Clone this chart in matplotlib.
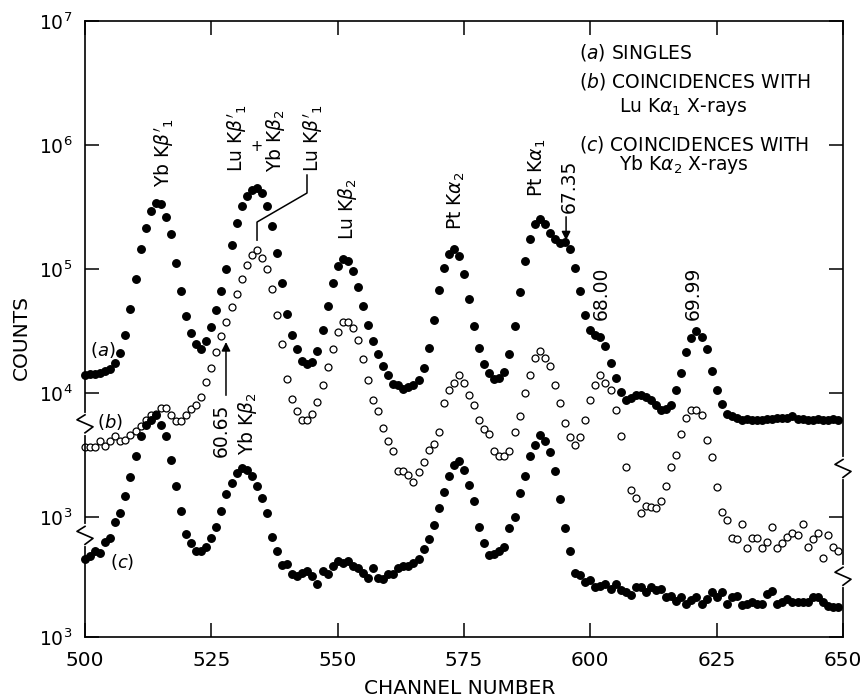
import numpy as np
import matplotlib
matplotlib.use("Agg")
import matplotlib.pyplot as plt
from matplotlib.lines import Line2D
from matplotlib import transforms

plt.rcParams["font.family"] = "DejaVu Sans"
plt.rcParams["mathtext.fontset"] = "dejavusans"

# ========================= Data (log10 of counts) =========================#
first_channel = 500

# (a) singles
log_a = [
    4.14, 4.15, 4.15, 4.16, 4.18, 4.19, 4.24, 4.32, 4.47, 4.68,
    4.92, 5.16, 5.33, 5.47, 5.53, 5.52, 5.42, 5.28, 5.05, 4.82,
    4.62, 4.48, 4.39, 4.35, 4.42, 4.53, 4.67, 4.82, 5.00, 5.19,
    5.37, 5.51, 5.59, 5.64, 5.65, 5.61, 5.51, 5.35, 5.13, 4.89,
    4.64, 4.47, 4.35, 4.26, 4.23, 4.25, 4.34, 4.51, 4.70, 4.89,
    5.02, 5.08, 5.06, 4.98, 4.85, 4.70, 4.55, 4.42, 4.31, 4.22,
    4.14, 4.07, 4.06, 4.03, 4.05, 4.06, 4.10, 4.20, 4.36, 4.59,
    4.83, 5.01, 5.12, 5.16, 5.10, 4.96, 4.76, 4.54, 4.36, 4.23,
    4.16, 4.11, 4.12, 4.17, 4.31, 4.54, 4.81, 5.06, 5.24, 5.36,
    5.40, 5.36, 5.29, 5.24, 5.21, 5.22, 5.16, 5.01, 4.82, 4.63,
    4.51, 4.47, 4.45, 4.38, 4.24, 4.12, 4.01, 3.94, 3.96, 3.98,
    3.98, 3.97, 3.94, 3.90, 3.86, 3.87, 3.90, 4.02, 4.16, 4.33,
    4.44, 4.50, 4.45, 4.35, 4.18, 4.02, 3.91, 3.83, 3.81, 3.80,
    3.78, 3.79, 3.78, 3.78, 3.78, 3.79, 3.79, 3.80, 3.80, 3.80,
    3.81, 3.79, 3.79, 3.78, 3.78, 3.79, 3.78, 3.78, 3.79, 3.78,
]

# (b) coincidences with Lu K alpha1 x-rays (shifted scale)
log_b = [
    3.56, 3.56, 3.56, 3.61, 3.57, 3.61, 3.65, 3.61, 3.62, 3.66,
    3.69, 3.73, 3.78, 3.82, 3.83, 3.88, 3.88, 3.82, 3.77, 3.77,
    3.82, 3.87, 3.90, 3.97, 4.09, 4.20, 4.33, 4.46, 4.57, 4.69,
    4.80, 4.92, 5.03, 5.11, 5.15, 5.09, 5.00, 4.84, 4.63, 4.39,
    4.11, 3.95, 3.85, 3.78, 3.78, 3.83, 3.93, 4.06, 4.21, 4.35,
    4.49, 4.57, 4.57, 4.52, 4.43, 4.27, 4.10, 3.94, 3.85, 3.72,
    3.61, 3.53, 3.37, 3.37, 3.34, 3.28, 3.36, 3.44, 3.54, 3.59,
    3.68, 3.92, 4.02, 4.08, 4.14, 4.08, 3.98, 3.90, 3.78, 3.71,
    3.67, 3.53, 3.49, 3.49, 3.53, 3.68, 3.81, 4.00, 4.14, 4.28,
    4.34, 4.28, 4.22, 4.06, 3.92, 3.76, 3.64, 3.58, 3.64, 3.78,
    3.94, 4.06, 4.14, 4.08, 4.02, 3.86, 3.65, 3.40, 3.22, 3.15,
    3.03, 3.09, 3.08, 3.07, 3.13, 3.25, 3.40, 3.50, 3.67, 3.80,
    3.86, 3.86, 3.82, 3.62, 3.48, 3.24, 3.04, 2.97, 2.83, 2.82,
    2.94, 2.75, 2.83, 2.83, 2.75, 2.80, 2.92, 2.75, 2.79, 2.84,
    2.87, 2.85, 2.94, 2.76, 2.82, 2.87, 2.67, 2.85, 2.76, 2.72,
]

# (c) coincidences with Yb K alpha2 x-rays (shifted scale)
log_c = [
    2.66, 2.68, 2.72, 2.71, 2.80, 2.83, 2.96, 3.03, 3.17, 3.32,
    3.49, 3.65, 3.74, 3.78, 3.82, 3.74, 3.65, 3.46, 3.25, 3.05,
    2.86, 2.79, 2.72, 2.72, 2.76, 2.83, 2.92, 3.05, 3.18, 3.27,
    3.35, 3.39, 3.38, 3.33, 3.25, 3.15, 3.03, 2.84, 2.72, 2.61,
    2.62, 2.54, 2.52, 2.55, 2.56, 2.52, 2.46, 2.56, 2.54, 2.60,
    2.64, 2.63, 2.64, 2.60, 2.59, 2.55, 2.51, 2.59, 2.51, 2.50,
    2.54, 2.54, 2.59, 2.60, 2.60, 2.63, 2.66, 2.74, 2.82, 2.93,
    3.07, 3.20, 3.33, 3.42, 3.45, 3.38, 3.26, 3.13, 2.92, 2.79,
    2.69, 2.70, 2.72, 2.76, 2.91, 3.00, 3.19, 3.33, 3.49, 3.58,
    3.66, 3.61, 3.52, 3.37, 3.14, 2.91, 2.72, 2.55, 2.53, 2.47,
    2.49, 2.43, 2.44, 2.46, 2.42, 2.46, 2.41, 2.39, 2.37, 2.43,
    2.43, 2.39, 2.43, 2.41, 2.42, 2.35, 2.36, 2.32, 2.35, 2.30,
    2.33, 2.35, 2.30, 2.34, 2.39, 2.35, 2.39, 2.30, 2.35, 2.36,
    2.29, 2.30, 2.31, 2.30, 2.30, 2.38, 2.40, 2.30, 2.31, 2.34,
    2.31, 2.31, 2.31, 2.31, 2.35, 2.35, 2.31, 2.28, 2.27, 2.27,
]

channels = np.arange(first_channel, first_channel + len(log_a))

x_ticks = [500, 525, 550, 575, 600, 625, 650]
y_tick_logs = [2.03, 3, 4, 5, 6, 7]
y_tick_labels = ["$10^3$", "$10^3$", "$10^4$", "$10^5$", "$10^6$", "$10^7$"]

# ========================= Figure =========================#
fig = plt.figure(figsize=(8.64, 6.98), dpi=100)
ax = fig.add_axes([85 / 864, 61 / 698, 758 / 864, 616 / 698])
ax.set_yscale("log")
ax.set_xlim(500, 650)
ax.set_ylim(10 ** 2.03, 10 ** 7)

ax.plot(channels, 10 ** np.array(log_a), "o", ms=5.4, color="k", clip_on=False, zorder=3)
ax.plot(channels, 10 ** np.array(log_b), "o", ms=5.0, mfc="white", mec="k", mew=0.9,
        clip_on=False, zorder=2)
ax.plot(channels, 10 ** np.array(log_c), "o", ms=5.4, color="k", clip_on=False, zorder=3)

for s in ax.spines.values():
    s.set_linewidth(1.2)

ax.set_xticks(x_ticks)
ax.set_xticklabels([str(t) for t in x_ticks])
ax.set_yticks([10 ** v for v in y_tick_logs])
ax.set_yticklabels(y_tick_labels)
ax.yaxis.set_minor_locator(matplotlib.ticker.NullLocator())
ax.tick_params(axis="both", direction="in", length=10, width=1.1, top=True, right=True)
ax.tick_params(axis="x", labelsize=14.5, pad=10)
ax.tick_params(axis="y", labelsize=13.5, pad=9)

fig.text(21 / 864, 1 - 338 / 698, "COUNTS", rotation=90, ha="center", va="center", fontsize=14.5)
fig.text(460 / 864, 1 - 689 / 698, "CHANNEL NUMBER", ha="center", va="center", fontsize=14.5)


# ========================= Axis breaks =========================#
def zigzag(x_axes, log_y):
    tr = transforms.blended_transform_factory(ax.transAxes, ax.transData)
    cx, cy = tr.transform((x_axes, 10 ** log_y))
    inv = fig.transFigure.inverted()
    gap = inv.transform([(cx, cy + 9), (cx, cy - 9)])
    fig.add_artist(Line2D(gap[:, 0], gap[:, 1], color="white", lw=3, zorder=5))
    offs = [(0, 9), (-8, 4), (8, -3), (0, -9)]
    zz = inv.transform([(cx + dx, cy + dy) for dx, dy in offs])
    fig.add_artist(Line2D(zz[:, 0], zz[:, 1], color="k", lw=1.2, zorder=6))


zigzag(0, 3.75)
zigzag(0, 2.85)
zigzag(1, 3.39)
zigzag(1, 2.52)

# ========================= Peak labels =========================#
lab = dict(rotation=90, ha="center", va="bottom", fontsize=13.5)
ax.text(515.6, 10 ** 5.66, r"Yb K$\beta'_{1}$", **lab)
ax.text(530.0, 10 ** 5.78, r"Lu K$\beta'_{1}$", **lab)
ax.text(534.0, 10 ** 5.99, "+", ha="center", va="center", fontsize=10.5)
ax.text(537.6, 10 ** 5.78, r"Yb K$\beta_{2}$", **lab)
ax.text(545.1, 10 ** 5.78, r"Lu K$\beta'_{1}$", **lab)
ax.text(552.0, 10 ** 5.23, r"Lu K$\beta_{2}$", **lab)
ax.text(573.5, 10 ** 5.31, r"Pt K$\alpha_{2}$", **lab)
ax.text(589.6, 10 ** 5.58, r"Pt K$\alpha_{1}$", **lab)
ax.text(595.8, 10 ** 5.45, "67.35", **lab)
ax.text(602.1, 10 ** 4.59, "68.00", **lab)
ax.text(620.3, 10 ** 4.59, "69.99", **lab)
ax.text(526.9, 10 ** 3.48, "60.65", **lab)
ax.text(532.1, 10 ** 3.50, r"Yb K$\beta_{2}$", **lab)

# leader line and arrows
ax.plot([543.93, 543.93, 534.04, 534.04],
        [10 ** 5.757, 10 ** 5.612, 10 ** 5.378, 10 ** 5.232], "k-", lw=1.1)
arrow = dict(arrowstyle="-|>", color="k", lw=1.1, mutation_scale=13, shrinkA=0, shrinkB=0)
ax.annotate("", xy=(595.2, 10 ** 5.23), xytext=(595.2, 10 ** 5.42), arrowprops=arrow)
ax.annotate("", xy=(527.9, 10 ** 4.41), xytext=(527.9, 10 ** 3.98), arrowprops=arrow)

# curve labels
ax.text(503.6, 10 ** 4.345, r"($\mathit{a}$)", ha="center", va="center", fontsize=13)
ax.text(504.9, 10 ** 3.764, r"($\mathit{b}$)", ha="center", va="center", fontsize=13)
ax.text(507.3, 10 ** 2.634, r"($\mathit{c}$)", ha="center", va="center", fontsize=13)

# legend block
leg = dict(ha="left", va="baseline", fontsize=13.5)
ax.text(597.8, 10 ** 6.70, r"($\mathit{a}$) SINGLES", **leg)
ax.text(597.8, 10 ** 6.467, r"($\mathit{b}$) COINCIDENCES WITH", **leg)
ax.text(605.7, 10 ** 6.266, r"Lu K$\alpha_{1}$ X-rays", **leg)
ax.text(597.8, 10 ** 5.959, r"($\mathit{c}$) COINCIDENCES WITH", **leg)
ax.text(605.7, 10 ** 5.797, r"Yb K$\alpha_{2}$ X-rays", **leg)

fig.savefig("out.png", dpi=100)
